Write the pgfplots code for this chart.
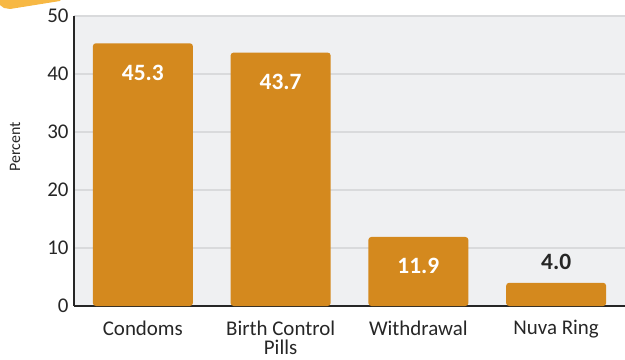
\documentclass[border=0pt]{standalone}
\usepackage{pgfplots}
\pgfplotsset{compat=1.18}
\usepackage{fontspec}
\setmainfont{Carlito}
\definecolor{barc}{HTML}{D4891E}
\definecolor{bgc}{HTML}{EFF0F2}
\definecolor{gridc}{HTML}{D9DADC}
\definecolor{txt}{HTML}{262626}
\definecolor{tabc}{HTML}{F7B844}
\begin{document}
\begin{tikzpicture}[x=1bp,y=1bp]
\useasboundingbox (-74,-53) rectangle (551,306);
\fill[tabc] (-74,308) -- (-12,308) -- (-14,305) -- (-64,297) -- (-70,298) -- (-74,301) -- cycle;
\begin{axis}[
  at={(0,0)}, anchor=south west,
  scale only axis, width=551bp, height=290bp,
  xmin=-0.5, xmax=3.5, ymin=0, ymax=50,
  ytick={0,10,...,50},
  xtick={0,1,2,3},
  xticklabels={Condoms,{Birth Control\\Pills},Withdrawal,Nuva Ring},
  xticklabel style={align=center, font=\fontsize{21}{20}\selectfont, text=txt, yshift=-11bp},
  yticklabel style={font=\fontsize{21}{21}\selectfont, text=txt, xshift=-2bp},
  /pgf/number format/assume math mode=true,
  major x tick style={draw=none},
  ytick style={draw=none},
  extra x ticks={0.5,1.5,2.5}, extra x tick labels={},
  extra x tick style={tick align=inside, major tick length=6bp, tick style={draw=txt, line width=1.2bp}},
  axis x line*=bottom, axis y line*=left,
  axis line style={draw=txt, line width=1.5bp},
  ymajorgrids, grid style={gridc, line width=1.5bp},
  axis background/.style={fill=bgc},
  ylabel={\fontsize{16}{16}\selectfont Percent},
  ylabel style={at={(axis description cs:-0.107,0.55)}, anchor=center, text=txt},
]
\addplot[ybar, bar width=100bp, fill=barc, draw=none, rounded corners=3bp]
  coordinates {(0,45.3) (1,43.7) (2,11.9) (3,4.0)};
\addplot[draw=none, nodes near coords, point meta=explicit symbolic,
  every node near coord/.style={anchor=center, text=white, font=\bfseries\fontsize{23.5}{23.5}\selectfont}]
  table[meta=label] {
x y label
0 40.2 45.3
1 38.6 43.7
2 6.9 11.9
};
\addplot[draw=none, nodes near coords, point meta=explicit symbolic,
  every node near coord/.style={anchor=center, text=txt, font=\bfseries\fontsize{23.5}{23.5}\selectfont}]
  table[meta=label] {
x y label
3 7.6 4.0
};
\end{axis}
\end{tikzpicture}
\end{document}
